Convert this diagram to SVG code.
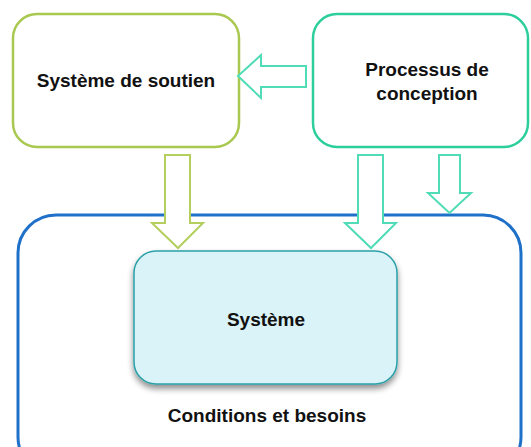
<svg xmlns="http://www.w3.org/2000/svg" width="531" height="447" viewBox="0 0 531 447">
<defs>
<style>
.lbl{font-family:"Liberation Sans",Arial,sans-serif;font-weight:bold;font-size:19px;fill:#111;text-anchor:middle}
.arr-g{fill:#fff;stroke:#b5cf5f;stroke-width:2}
.arr-t{fill:#fff;stroke:#4fdcb6;stroke-width:2}
</style>
<filter id="sh" x="-10%" y="-10%" width="120%" height="130%">
<feGaussianBlur in="SourceAlpha" stdDeviation="3"/>
<feOffset dy="4"/>
<feComponentTransfer><feFuncA type="linear" slope="0.45"/></feComponentTransfer>
<feMerge><feMergeNode/><feMergeNode in="SourceGraphic"/></feMerge>
</filter>
</defs>
<rect width="531" height="447" fill="#fff"/>
<g id="conditions">
<rect x="18" y="215" width="503" height="260" rx="38" fill="#fff" stroke="#1f70c8" stroke-width="3"/>
<text class="lbl" x="267" y="422">Conditions et besoins</text>
</g>
<g id="soutien">
<rect x="13" y="14" width="226" height="133" rx="24" fill="#fff" stroke="#a9c850" stroke-width="2.5"/>
<text class="lbl" x="126" y="87">Système de soutien</text>
</g>
<g id="processus">
<rect x="313" y="14" width="215" height="133" rx="24" fill="#fff" stroke="#2ccf9c" stroke-width="2.5"/>
<text class="lbl" x="427" y="76">Processus de</text>
<text class="lbl" x="427" y="100">conception</text>
</g>
<g id="connectors">
<polygon class="arr-t" points="306,66 261,66 261,55 238,76 261,98 261,87 306,87"/>
<polygon class="arr-g" points="165,155 190,155 190,223 203,223 178,248 152,223 165,223"/>
<polygon class="arr-t" points="358,155 383,155 383,223 396,223 371,248 345,223 358,223"/>
<polygon class="arr-t" points="439,155 460,155 460,193 471,193 449.5,213 428,193 439,193"/>
</g>
<g id="systeme">
<rect x="134" y="251" width="263" height="133" rx="22" fill="#daf3f8" stroke="#2aa0a8" stroke-width="1.5" filter="url(#sh)"/>
<text class="lbl" x="266" y="326">Système</text>
</g>
</svg>
